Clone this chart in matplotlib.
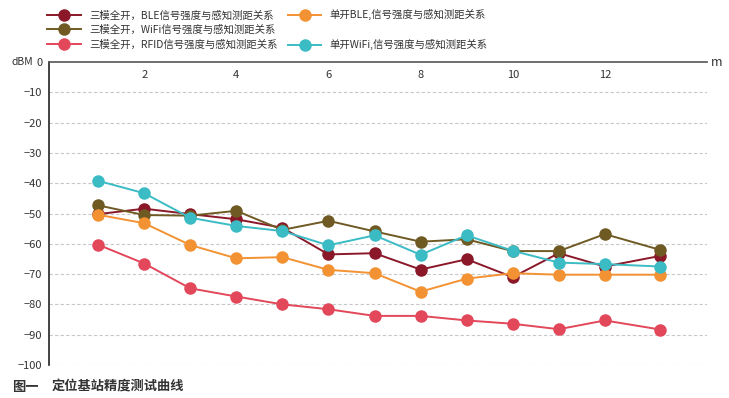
import matplotlib
matplotlib.use("Agg")
import matplotlib.pyplot as plt
from matplotlib.lines import Line2D

plt.rcParams['font.family'] = ['Noto Sans CJK SC', 'DejaVu Sans']

# 距离 (m)
dist = [1, 2, 3, 4, 5, 6, 7, 8, 9, 10, 11, 12, 13.2]

# 信号强度 (dBM)
ble_all = [-50.2, -48.4, -50.2, -51.9, -54.7, -63.5, -63.1, -68.5, -65.1, -71.0, -63.1, -67.5, -64.0]
wifi_all = [-47.3, -50.5, -50.7, -49.1, -55.4, -52.4, -55.9, -59.3, -58.5, -62.4, -62.4, -56.8, -62.0]
rfid_all = [-60.3, -66.5, -74.7, -77.4, -80.0, -81.6, -83.8, -83.8, -85.3, -86.4, -88.2, -85.3, -88.3]
ble_only = [-50.4, -53.2, -60.4, -64.8, -64.4, -68.6, -69.7, -75.8, -71.5, -69.7, -70.2, -70.2, -70.2]
wifi_only = [-39.2, -43.3, -51.4, -54.1, -55.8, -60.5, -57.2, -63.6, -57.2, -62.3, -66.2, -66.7, -67.5]

labels = ['三模全开，BLE信号强度与感知测距关系',
          '三模全开，WiFi信号强度与感知测距关系',
          '三模全开，RFID信号强度与感知测距关系',
          '单开BLE,信号强度与感知测距关系',
          '单开WiFi,信号强度与感知测距关系']
colors = ['#8a1828', '#6f5a24', '#e2475a', '#f39233', '#3bbcc5']

xticks = [2, 4, 6, 8, 10, 12]
yticks = [0, -10, -20, -30, -40, -50, -60, -70, -80, -90, -100]

fig = plt.figure(figsize=(7.29, 3.98), dpi=100)
ax = fig.add_axes([0.0676, 0.083, 0.9018, 0.761])

series = [ble_all, wifi_all, rfid_all, ble_only, wifi_only]
order = [1, 0, 2, 3, 4]
handles = [None] * 5
for i in order:
    h, = ax.plot(dist, series[i], color=colors[i], lw=1.4, marker='o',
                 markersize=9, markeredgewidth=0, zorder=3 + i)
    handles[i] = h

# 网格线
for v in yticks[1:]:
    ax.axhline(v, color='#c8c8c8', lw=0.8, ls=(0, (3, 2)), zorder=1)

ax.set_xlim(-0.06, 14.21)
ax.set_ylim(-100, 0)
ax.set_yticks(yticks)
ax.set_yticklabels([str(v).replace('-', '\u2212') for v in yticks])
ax.set_xticks(xticks)
ax.xaxis.tick_top()
ax.tick_params(axis='x', top=True, labeltop=True, bottom=False, labelbottom=False,
               length=0, pad=-13, labelsize=8, labelcolor='#333333')
ax.tick_params(axis='y', length=0, pad=5, labelsize=8, labelcolor='#333333')

for s in ['right', 'bottom']:
    ax.spines[s].set_visible(False)
ax.spines['left'].set_color('#222222')
ax.spines['left'].set_linewidth(1.2)
ax.spines['top'].set_color('#555555')
ax.spines['top'].set_linewidth(1.2)

fig.text(0.016, 0.844, 'dBM', fontsize=7.5, color='#333333', va='center')
fig.text(0.975, 0.844, 'm', fontsize=9, color='#333333', va='center')

# 图例
blank = Line2D([], [], color='none')
leg_handles = [handles[0], handles[1], handles[2], handles[3], blank, handles[4]]
leg_labels = [labels[0], labels[1], labels[2], labels[3], '', labels[4]]
fig.legend(leg_handles, leg_labels, ncol=2, loc='upper left',
           bbox_to_anchor=(0.052, 1.0), frameon=False, fontsize=7.5,
           handlelength=3.2, handletextpad=0.8, columnspacing=1.0,
           labelspacing=0.42, labelcolor='#333333')

fig.text(0.016, 0.028, '图一', fontsize=9.5,
         fontweight='bold', color='#333333', va='center')
fig.text(0.071, 0.028, '定位基站精度测试曲线', fontsize=9.5,
         fontweight='bold', color='#333333', va='center')

fig.savefig('out.png', dpi=100)
